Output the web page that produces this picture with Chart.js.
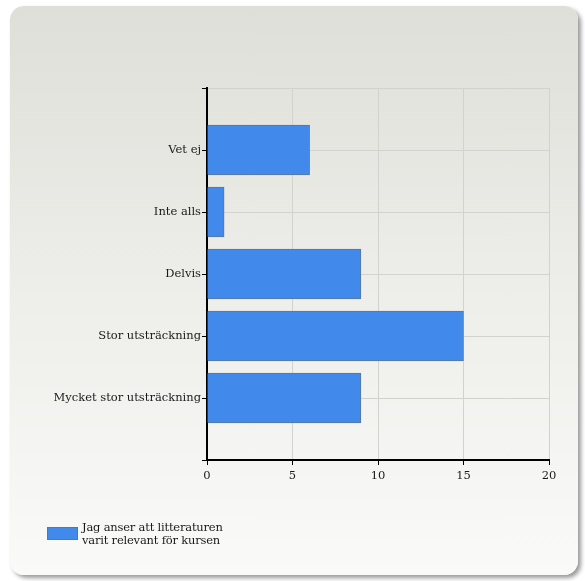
<!DOCTYPE html>
<html>
<head>
<meta charset="utf-8">
<script src="https://cdn.jsdelivr.net/npm/chart.js@4"></script>
<style>
  html, body { margin: 0; padding: 0; background: #ffffff; }
  #wrap { position: relative; width: 585px; height: 581px; overflow: hidden; }
  #panel {
    position: absolute; left: 10px; top: 6px; width: 568px; height: 569px;
    border-radius: 14px;
    background: linear-gradient(to bottom, #dfdfd9 0%, #ececE8 45%, #fafaf9 100%);
    box-shadow: 3px 3px 4px rgba(0,0,0,0.4);
  }
  #chart-box { position: absolute; left: 0; top: 0; width: 585px; height: 581px; }
  #legend {
    position: absolute; left: 47px; top: 521px;
    font-family: "DejaVu Serif", serif; font-size: 11.5px; line-height: 13px; color: #1a1a1a;
  }
  #legend .swatch {
    position: absolute; left: 0; top: 6px; width: 29px; height: 11px;
    border: 1px solid #5a7896;
  }
  #legend .text { position: absolute; left: 35px; top: 0; white-space: nowrap; letter-spacing: -0.2px; }
</style>
</head>
<body>
<div id="wrap">
  <div id="panel"></div>
  <div id="chart-box"><canvas id="chart"></canvas></div>
  <div id="legend"><div class="swatch"></div><div class="text"></div></div>
</div>
<script>
// ---- Data ----
const categories = ["Vet ej", "Inte alls", "Delvis", "Stor utsträckning", "Mycket stor utsträckning"];
const values = [6, 1, 9, 15, 9];
const xTicks = [0, 5, 10, 15, 20];
const seriesLabel = ["Jag anser att litteraturen", "varit relevant för kursen"];

const BAR_COLOR = "#4189ea";
const BAR_BORDER = "#5a7896";
const FONT = { family: "'DejaVu Serif', serif", size: 11.5 };

// empty slots at both ends give the half-step margin above and below the bars
const labels = ["", ...categories, ""];
const data = [null, ...values, null];

new Chart(document.getElementById("chart"), {
  type: "bar",
  data: {
    labels,
    datasets: [{
      label: seriesLabel.join(" "),
      data,
      backgroundColor: BAR_COLOR,
      borderColor: BAR_BORDER,
      borderWidth: 1,
      barThickness: 50,
    }],
  },
  options: {
    indexAxis: "y",
    responsive: true,
    maintainAspectRatio: false,
    animation: false,
    layout: { padding: { top: 88, right: 36, left: 0, bottom: 0 } },
    plugins: { legend: { display: false }, tooltip: { enabled: false } },
    scales: {
      x: {
        type: "linear",
        min: xTicks[0],
        max: xTicks[xTicks.length - 1],
        afterBuildTicks: s => { s.ticks = xTicks.map(v => ({ value: v })); },
        afterFit: s => { s.height = 121; },
        grid: { color: "#d2d2ce", tickColor: "#000", tickLength: 5, lineWidth: 1 },
        border: { color: "#000", width: 2 },
        ticks: { color: "#1a1a1a", font: FONT, padding: 4 },
      },
      y: {
        type: "category",
        offset: false,
        afterFit: s => { s.width = 207; },
        grid: { offset: false, color: "#d2d2ce", tickColor: "#000", tickLength: 5, lineWidth: 1 },
        border: { color: "#000", width: 2 },
        ticks: { color: "#1a1a1a", font: FONT, padding: 1, autoSkip: false },
      },
    },
  },
});

// ---- Legend (two-line label, drawn as HTML text) ----
document.querySelector("#legend .swatch").style.background = BAR_COLOR;
document.querySelector("#legend .text").innerHTML = seriesLabel.join("<br>");
</script>
</body>
</html>
